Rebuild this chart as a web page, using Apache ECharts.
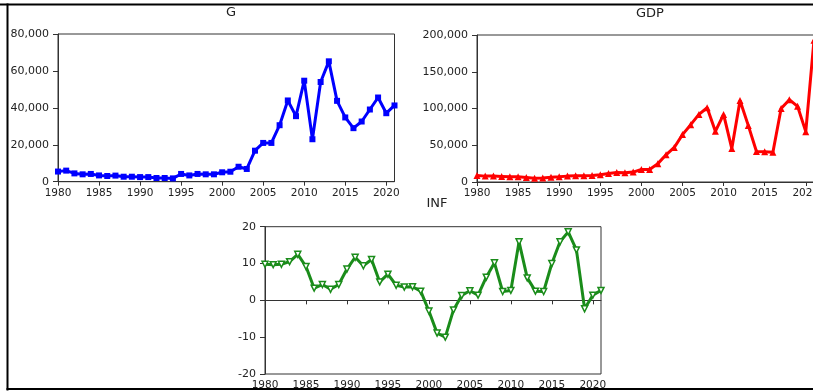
<!DOCTYPE html>
<html><head><meta charset="utf-8">
<script src="https://cdn.jsdelivr.net/npm/echarts@6/dist/echarts.min.js"></script>
<style>html,body{margin:0;padding:0;background:#fff}#c{width:813px;height:391px}</style>
</head><body><div id="c"></div>
<script>
const years = [];
for (let y = 1980; y <= 2021; y++) years.push(y);
const gValues = [5500,6000,4500,4000,4200,3400,3100,3300,2700,2700,2500,2500,2000,2000,1800,4200,3400,4200,4000,4000,5100,5400,8100,6900,16800,21000,21000,30600,44000,35500,54700,23000,54000,65200,43800,34800,29000,32600,39100,45600,37100,41300];
const gdpValues = [9000,8000,8000,7500,7000,7000,6000,5000,5500,6500,7000,8000,8500,8500,9000,10000,11500,13000,12500,13500,17000,17000,25000,37000,47000,64500,78000,92000,101000,69000,92000,45500,111000,77000,41500,41000,40500,100000,112000,103000,68500,193000];
const infValues = [9.8,9.7,9.8,10.5,12.5,9.2,3.3,4.3,3.0,4.3,8.5,11.7,9.4,11.1,5.0,7.1,4.1,3.6,3.7,2.5,-2.9,-8.9,-10.0,-2.6,1.3,2.6,1.4,6.3,10.2,2.4,2.7,15.9,6.1,2.5,2.4,10.0,15.9,18.6,13.7,-2.3,1.4,2.7];
const titles = ['G','GDP','INF'];
const xTickStep = 5;

const FONT = 'DejaVu Sans';
const TXT = '#222';
const pair = (vals) => years.map((y, i) => [y, vals[i]]);

const grids = [
  {left: 58, top: 34, width: 336.5, height: 147.7},
  {left: 477, top: 35, width: 337, height: 147},
  {left: 265, top: 226.7, width: 336, height: 147.3}
];
const yAxes = [
  {min: 0, max: 80000, interval: 20000},
  {min: 0, max: 200000, interval: 50000},
  {min: -20, max: 20, interval: 10}
];
const chart = echarts.init(document.getElementById('c'), null, {renderer: 'canvas'});
const option = {
  backgroundColor: '#fff',
  animation: false,
  title: [
    {text: titles[0], left: 226, top: 1, textAlign: 'center'},
    {text: titles[1], left: 645, top: 2, textAlign: 'center'},
    {text: titles[2], left: 432, top: 192, textAlign: 'center'}
  ].map(t => Object.assign(t, {textStyle: {fontFamily: FONT, fontSize: 13, fontWeight: 'normal', color: TXT}})),
  grid: grids.map(g => Object.assign({show: true, borderColor: '#333', borderWidth: 1, backgroundColor: 'transparent',
    containLabel: false, outerBoundsMode: 'none'}, g)),
  xAxis: grids.map((g, i) => ({
    type: 'value', gridIndex: i, min: years[0], max: years[years.length - 1], interval: xTickStep,
    axisLine: {show: true, lineStyle: {color: '#333', width: 1}},
    axisTick: {show: true, inside: false, length: 4, lineStyle: {color: '#333'}},
    splitLine: {show: false},
    axisLabel: {show: true, showMaxLabel: false, hideOverlap: false, margin: 6, fontFamily: FONT, fontSize: 10.5, color: TXT,
      formatter: v => (v % xTickStep === 0 ? String(v) : '')}
  })),
  yAxis: yAxes.map((a, i) => Object.assign({
    type: 'value', gridIndex: i,
    axisLine: {show: true, lineStyle: {color: '#333', width: 1}},
    axisTick: {show: true, inside: false, length: 5, lineStyle: {color: '#333'}},
    splitLine: {show: false},
    axisLabel: {margin: 9, fontFamily: FONT, fontSize: 11, color: TXT,
      formatter: v => v.toLocaleString('en-US')}
  }, a)),
  series: [
    {type: 'line', xAxisIndex: 0, yAxisIndex: 0, data: pair(gValues), symbol: 'rect', symbolSize: 6,
      showAllSymbol: true, lineStyle: {color: '#0000ff', width: 3}, itemStyle: {color: '#0000ff'}},
    {type: 'line', xAxisIndex: 1, yAxisIndex: 1, data: pair(gdpValues), symbol: 'triangle', symbolSize: 7,
      showAllSymbol: true, clip: false, lineStyle: {color: '#ff0000', width: 3}, itemStyle: {color: '#ff0000'}},
    {type: 'line', xAxisIndex: 2, yAxisIndex: 2, data: pair(infValues), symbol: 'triangle', symbolRotate: 180, symbolSize: 6,
      showAllSymbol: true, lineStyle: {color: '#1a8c1a', width: 3}, itemStyle: {color: '#ffffff', borderColor: '#1a8c1a', borderWidth: 1.5}}
  ],
  graphic: [
    {type: 'rect', shape: {x: 0, y: 3.5, width: 813, height: 2}, style: {fill: '#000'}, silent: true},
    {type: 'rect', shape: {x: 6.5, y: 3.5, width: 2, height: 387}, style: {fill: '#000'}, silent: true},
    {type: 'rect', shape: {x: 6.5, y: 388, width: 807, height: 2}, style: {fill: '#000'}, silent: true}
  ]
};
chart.setOption(option);
</script></body></html>
